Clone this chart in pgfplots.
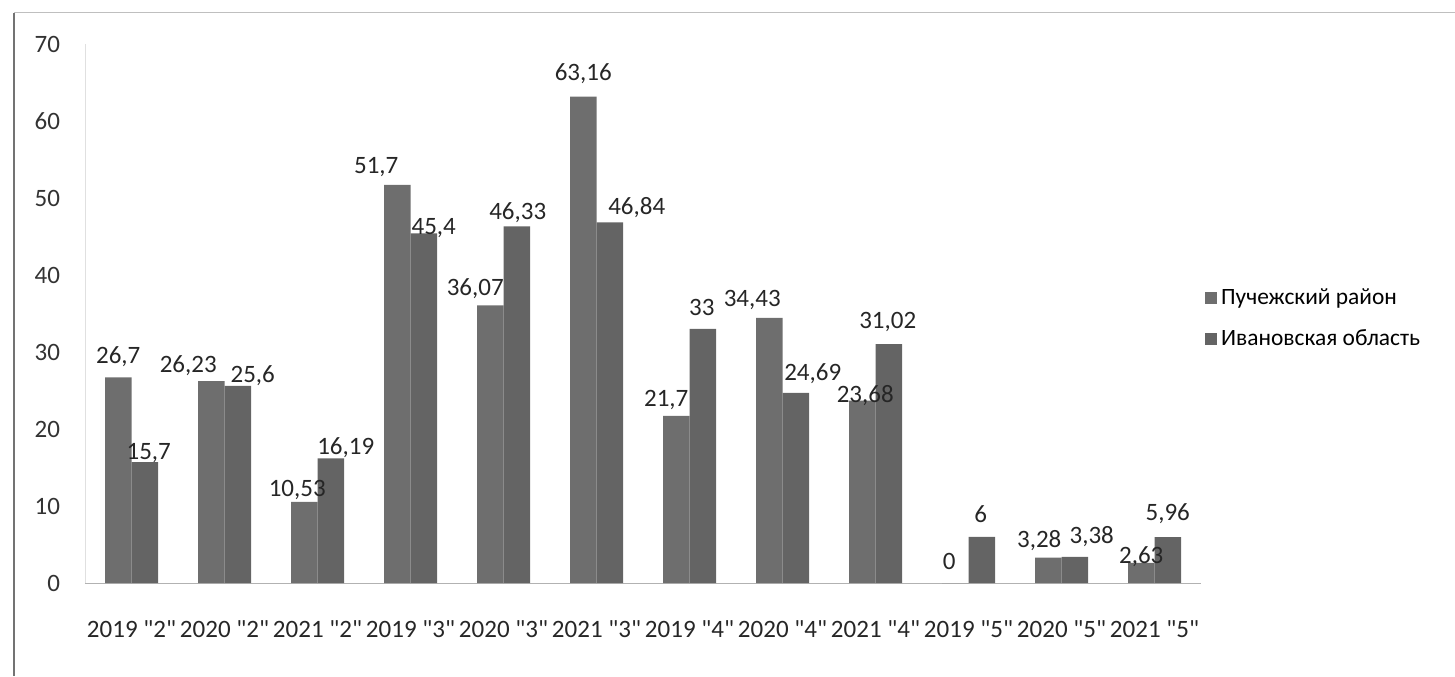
\documentclass[border=0pt]{standalone}
\usepackage{pgfplots}
\usepackage{pgfplotstable}
\pgfplotsset{compat=1.18}
\usepackage{fontspec}
\setmainfont{Carlito}[Ligatures=TeXOff]
\definecolor{barA}{HTML}{6E6E6E}
\definecolor{barB}{HTML}{646464}
% dx, dy: label offsets in pt
\pgfplotstableread{
x y dx dy
0 26.7 0 0
1 26.23 -11.5 -3
2 10.53 -3.5 -4.5
3 51.7 -10.5 -1.5
4 36.07 -7.5 -2
5 63.16 0 1
6 21.7 -5 -2.5
7 34.43 -8.5 -1.5
8 23.68 1.5 -8
9 0 -3 1
10 3.28 -4.5 -2
11 2.63 0 -7.5
}\pucheg
\pgfplotstableread{
x y dx dy
0 15.7 2 -6
1 25.6 7.5 -5.5
2 16.19 7.5 -5
3 45.4 5 -7.5
4 46.33 0.5 -3.5
5 46.84 13.5 -3
6 33 -0.5 1
7 24.69 8.5 -1
8 31.02 -0.5 0.5
9 6 -0.5 1.5
10 3.38 8.5 -0.5
11 5.96 0 1
}\ivanovo
\begin{document}
\begin{tikzpicture}
\path[use as bounding box] (0,0) rectangle (727.5pt,338pt);
\draw[black!55, line width=0.8pt] (7pt,0) -- (7pt,331.5pt);
\draw[black!25, line width=0.5pt] (7pt,331.5pt) -- (727.5pt,331.5pt);
\begin{axis}[
  at={(42.5pt,46.5pt)}, anchor=south west,
  scale only axis, width=558pt, height=269.5pt,
  xmin=-0.5, xmax=11.5, ymin=0, ymax=70,
  ybar=0pt, bar width=13.25pt,
  axis x line*=bottom, axis y line*=left,
  x axis line style={black!30, -}, y axis line style={black!12, -},
  xtick={0,...,11}, ytick={0,10,...,70},
  tick style={draw=none},
  xticklabels={{2019 "2"},{2020 "2"},{2021 "2"},{2019 "3"},{2020 "3"},{2021 "3"},{2019 "4"},{2020 "4"},{2021 "4"},{2019 "5"},{2020 "5"},{2021 "5"}},
  xticklabel style={yshift=-11pt, font=\fontsize{12.5}{14}\selectfont, black!85},
  yticklabel style={xshift=-9pt, font=\fontsize{12.5}{14}\selectfont, black!80},
  /pgf/number format/assume math mode=true,
  /pgf/number format/use comma, /pgf/number format/1000 sep={},
  nodes near coords,
  nodes near coords style={font=\fontsize{12.5}{14}\selectfont, black!85, yshift=2pt, /pgf/number format/assume math mode=true, /pgf/number format/use comma},
  visualization depends on={\thisrow{dx} \as \dx},
  visualization depends on={\thisrow{dy} \as \dy},
  every node near coord/.append style={xshift=\dx pt, yshift=\dy pt},
  legend style={draw=none, fill=none, at={(0.998,0.49)}, anchor=west, font=\fontsize{11.7}{13}\selectfont, row sep=7pt, legend cell align=left},
  legend image code/.code={\fill[#1] (0pt,-3pt) rectangle (6pt,3pt);},
]
\addplot[draw=none, fill=barA] table[x=x, y=y] {\pucheg};
\addplot[draw=none, fill=barB] table[x=x, y=y] {\ivanovo};
\legend{Пучежский район, Ивановская область}
\end{axis}
\end{tikzpicture}
\end{document}
